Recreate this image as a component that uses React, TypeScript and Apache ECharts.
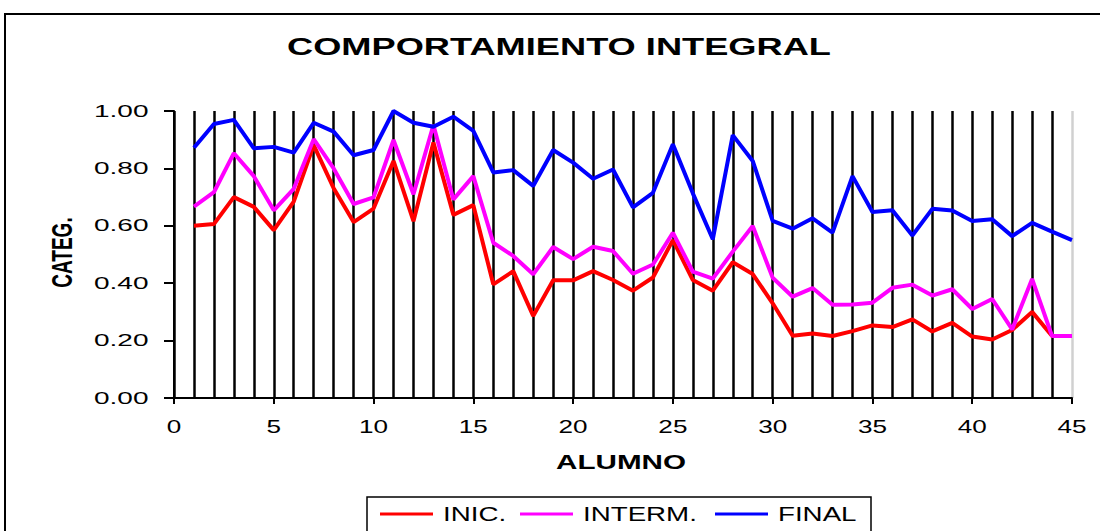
import React, { useEffect, useRef } from "react";
import * as echarts from "echarts";

const TITLE = "COMPORTAMIENTO INTEGRAL";
const X_NAME = "ALUMNO";
const Y_NAME = "CATEG.";
const SERIES_NAMES = ["INIC.", "INTERM.", "FINAL"];
const SERIES_COLORS = ["#FF0000", "#FF00FF", "#0000FF"];

const ALUMNOS = [
  1, 2, 3, 4, 5, 6, 7, 8, 9, 10, 11, 12, 13, 14, 15, 16, 17, 18, 19, 20, 21, 22, 23,
  24, 25, 26, 27, 28, 29, 30, 31, 32, 33, 34, 35, 36, 37, 38, 39, 40, 41, 42, 43, 44, 45,
];

const INIC = [
  0.6, 0.606, 0.7, 0.666, 0.585, 0.684, 0.881, 0.731, 0.613, 0.66, 0.826, 0.616, 0.89,
  0.638, 0.672, 0.396, 0.442, 0.286, 0.41, 0.41, 0.442, 0.411, 0.374, 0.42, 0.55, 0.411,
  0.374, 0.473, 0.432, 0.33, 0.217, 0.225, 0.216, 0.233, 0.253, 0.247, 0.274, 0.232,
  0.262, 0.214, 0.204, 0.237, 0.3, 0.216, 0.216,
];

const INTERM = [
  0.667, 0.717, 0.853, 0.773, 0.654, 0.729, 0.902, 0.8, 0.676, 0.699, 0.899, 0.71, 0.951,
  0.692, 0.773, 0.541, 0.495, 0.431, 0.526, 0.484, 0.527, 0.512, 0.433, 0.465, 0.576,
  0.44, 0.416, 0.51, 0.599, 0.419, 0.353, 0.383, 0.325, 0.326, 0.332, 0.384, 0.395,
  0.357, 0.379, 0.31, 0.345, 0.239, 0.415, 0.216, 0.216,
];

const FINAL = [
  0.872, 0.955, 0.969, 0.87, 0.875, 0.855, 0.959, 0.928, 0.846, 0.864, 1.0, 0.959, 0.945,
  0.98, 0.931, 0.786, 0.794, 0.739, 0.864, 0.82, 0.764, 0.796, 0.664, 0.715, 0.884, 0.713,
  0.553, 0.916, 0.826, 0.617, 0.59, 0.626, 0.576, 0.773, 0.648, 0.654, 0.566, 0.659,
  0.653, 0.617, 0.623, 0.564, 0.61, 0.58, 0.55,
];

const X_TICKS = [0, 5, 10, 15, 20, 25, 30, 35, 40, 45];
const X_TICK_LABELS = ["0", "5", "10", "15", "20", "25", "30", "35", "40", "45"];
const Y_TICKS = [0, 0.2, 0.4, 0.6, 0.8, 1.0];
const Y_TICK_LABELS = ["0.00", "0.20", "0.40", "0.60", "0.80", "1.00"];

const FONT = '"Liberation Sans", Arial, sans-serif';

export default function App() {
  const ref = useRef<HTMLDivElement>(null);

  useEffect(() => {
    document.body.style.margin = "0";
    if (!ref.current) return;
    const chart = echarts.init(ref.current, null, { renderer: "svg" });
    const values = [INIC, INTERM, FINAL];

    const splitColors = X_TICKS.map((_, i) => (i === X_TICKS.length - 1 ? "#d0d0d0" : "#000000"));

    chart.setOption({
      animation: false,
      backgroundColor: "#ffffff",
      grid: { left: 174, top: 111, width: 898, height: 287, containLabel: false },
      xAxis: {
        type: "value",
        min: 0,
        max: 45,
        interval: 5,
        axisLine: { show: true, onZero: false, lineStyle: { color: "#000", width: 2 } },
        axisTick: { show: true, inside: false, length: 6, lineStyle: { color: "#000", width: 2 } },
        axisLabel: { show: false },
        splitLine: { show: true, lineStyle: { color: splitColors, width: 2.5 } },
        minorTick: { show: false, splitNumber: 5 },
        minorSplitLine: { show: true, lineStyle: { color: "#000", width: 2.5 } },
      },
      yAxis: {
        type: "value",
        min: 0,
        max: 1,
        interval: 0.2,
        axisLine: { show: true, lineStyle: { color: "#000", width: 2 } },
        axisTick: { show: true, inside: false, length: 10, lineStyle: { color: "#000", width: 2 } },
        axisLabel: { show: false },
        splitLine: { show: false },
      },
      legend: { show: false },
      series: SERIES_NAMES.map((name, k) => ({
        name,
        type: "line",
        data: ALUMNOS.map((a, i) => [a, values[k][i]]),
        showSymbol: false,
        symbol: "none",
        clip: false,
        lineStyle: { color: SERIES_COLORS[k], width: 4 },
        itemStyle: { color: SERIES_COLORS[k] },
        z: 3 + k,
      })),
    });

    const g: any[] = [];
    g.push({
      type: "rect",
      shape: { x: 5, y: 14, width: 1200, height: 600 },
      style: { fill: "none", stroke: "#000", lineWidth: 2 },
      z: 0,
    });
    g.push({
      type: "text",
      x: 287,
      y: 47,
      scaleX: 1.51,
      style: {
        text: TITLE,
        fontFamily: FONT,
        fontSize: 24,
        fontWeight: "bold",
        fill: "#000",
        align: "left",
        verticalAlign: "middle",
      },
    });
    Y_TICKS.forEach((v, i) => {
      const p = chart.convertToPixel({ gridIndex: 0 }, [0, v]) as number[];
      g.push({
        type: "text",
        x: p[0] - 25.5,
        y: p[1],
        scaleX: 1.75,
        style: {
          text: Y_TICK_LABELS[i],
          fontFamily: FONT,
          fontSize: 16,
          fill: "#000",
          align: "right",
          verticalAlign: "middle",
        },
      });
    });
    X_TICKS.forEach((v, i) => {
      const p = chart.convertToPixel({ gridIndex: 0 }, [v, 0]) as number[];
      g.push({
        type: "text",
        x: p[0],
        y: p[1] + 28.5,
        scaleX: 1.45,
        style: {
          text: X_TICK_LABELS[i],
          fontFamily: FONT,
          fontSize: 18,
          fill: "#000",
          align: "center",
          verticalAlign: "middle",
        },
      });
    });
    g.push({
      type: "text",
      x: 621,
      y: 462,
      scaleX: 1.48,
      style: {
        text: X_NAME,
        fontFamily: FONT,
        fontSize: 20,
        fontWeight: "bold",
        fill: "#000",
        align: "center",
        verticalAlign: "middle",
      },
    });
    g.push({
      type: "text",
      x: 61.5,
      y: 252.5,
      rotation: Math.PI / 2,
      scaleY: 1.6,
      style: {
        text: Y_NAME,
        fontFamily: FONT,
        fontSize: 19,
        fontWeight: "bold",
        fill: "#000",
        align: "center",
        verticalAlign: "middle",
      },
    });
    g.push({
      type: "rect",
      shape: { x: 367, y: 497, width: 504, height: 80 },
      style: { fill: "#fff", stroke: "#000", lineWidth: 1.5 },
      z: 1,
    });
    const legendItems = [
      { lx: 380, tx: 443 },
      { lx: 520, tx: 583 },
      { lx: 715, tx: 778 },
    ];
    legendItems.forEach((it, k) => {
      g.push({
        type: "line",
        shape: { x1: it.lx, y1: 514, x2: it.lx + 53, y2: 514 },
        style: { stroke: SERIES_COLORS[k], lineWidth: 3 },
        z: 2,
      });
      g.push({
        type: "text",
        x: it.tx,
        y: 514,
        scaleX: 1.32,
        z: 2,
        style: {
          text: SERIES_NAMES[k],
          fontFamily: FONT,
          fontSize: 21,
          fill: "#000",
          align: "left",
          verticalAlign: "middle",
        },
      });
    });

    chart.setOption({ graphic: g });

    return () => chart.dispose();
  }, []);

  return (
    <div
      ref={ref}
      style={{ position: "fixed", left: 0, top: 0, width: 1100, height: 531 }}
    />
  );
}
